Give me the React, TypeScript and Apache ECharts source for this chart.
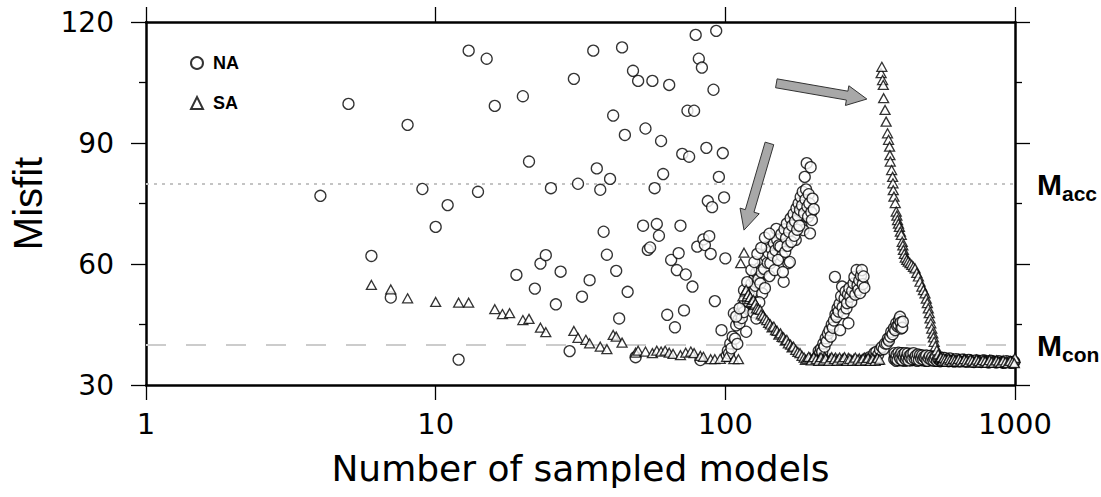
import React, { useEffect, useRef } from "react";
import * as echarts from "echarts";

// ---------- data ----------
const xTickValues = [1, 10, 100, 1000];
const yTickValues = [30, 60, 90, 120];
const seriesNames = ["NA", "SA"];
const accLevel = 80;
const conLevel = 40;
const accLabel = ["M", "acc"];
const conLabel = ["M", "con"];
// arrows: [tailX, tailY, tipX, tipY]
const arrowData = [
  [150, 104.8, 308, 100.9],
  [142, 89.9, 116, 68.4],
];

const naScatter = [
  [4, 76.9], [5, 99.7], [6, 62.0], [7, 51.7], [8, 94.5], [9, 78.6], [10, 69.2], [11, 74.6], [12, 36.3],
  [13, 112.9], [14, 77.9], [15, 110.9], [16, 99.2], [19, 57.3], [20, 101.6], [21, 85.4], [22, 53.9],
  [23, 60.1], [24, 62.2], [25, 78.8], [26, 50.0], [27, 58.1], [29, 38.4], [30, 105.9], [31, 79.9],
  [32, 51.9], [34, 56.0], [35, 112.9], [36, 83.7], [37, 78.4], [38, 68.0], [39, 62.3], [40, 81.1],
  [41, 96.8], [42, 58.3], [43, 46.5], [44, 113.7], [45, 92.0], [46, 53.1], [48, 107.9], [49, 36.9],
  [50, 105.4], [52, 69.5], [53, 93.6], [54, 63.5], [55, 64.1], [56, 105.4], [57, 78.8], [58, 69.9],
  [59, 67.0], [60, 90.5], [61, 82.3], [63, 47.4], [64, 104.4], [65, 61.0], [67, 44.3], [68, 58.5],
  [69, 62.7], [70, 69.5], [71, 87.3], [72, 48.5], [73, 57.4], [74, 98.0], [75, 86.6], [77, 54.4],
  [78, 98.0], [79, 116.8], [80, 64.3], [81, 110.9], [82, 36.2], [83, 108.7], [84, 66.1], [85, 64.7],
  [86, 88.8], [87, 75.6], [88, 66.9], [89, 62.5], [90, 74.1], [91, 103.2], [92, 50.8], [93, 117.8],
  [95, 81.6], [97, 43.6], [98, 87.5], [99, 76.5], [100, 61.4],
];
const naBranch1 = [
  [101, 37.2], [102, 38.5], [103, 37.8], [104, 40.3], [105, 39.1], [106, 42.0], [107, 47.8], [108, 41.5],
  [109, 44.8], [110, 40.2], [111, 46.2], [112, 45.3], [113, 47.8], [114, 46.6], [115, 49.5], [116, 48.1],
  [117, 50.9], [118, 43.2], [119, 52.4], [120, 50.6], [121, 53.8], [122, 51.9], [123, 55.1], [124, 53.0],
  [126, 56.4], [127, 54.6], [128, 57.9], [130, 56.2], [131, 59.0], [132, 55.2], [133, 58.0], [134, 52.7],
  [135, 60.5], [136, 58.8], [138, 61.9], [139, 64.3], [140, 60.3], [141, 62.8], [143, 60.2], [144, 63.9],
  [146, 62.1], [147, 65.2], [149, 63.4], [150, 68.7], [151, 66.0], [153, 64.6], [155, 64.3], [156, 67.4],
  [157, 62.0], [159, 55.6], [160, 68.6], [162, 66.4], [163, 70.0], [165, 60.2], [166, 68.0], [167, 60.5],
  [168, 71.3], [170, 69.5], [172, 72.4], [174, 70.6], [175, 66.0], [176, 73.8], [178, 71.9], [179, 75.0],
  [181, 73.4], [182, 76.6], [183, 69.4], [184, 74.5], [185, 77.9], [186, 68.4], [187, 72.6], [188, 81.6],
  [189, 76.0], [190, 78.5], [191, 85.0], [192, 74.2], [193, 71.7], [194, 77.3], [195, 75.0], [196, 67.6],
  [197, 84.0], [198, 72.8], [199, 70.9], [200, 76.2], [202, 73.6],
];
const naBranch1Extra = [
  [109, 47.0], [112, 49.0], [116, 53.5], [119, 55.5], [123, 58.5], [125, 48.0], [126, 60.5], [128, 46.5],
  [129, 62.5], [131, 50.5], [133, 64.0], [137, 54.0], [137, 66.5], [142, 57.0], [142, 67.5], [148, 58.5],
  [152, 61.0], [158, 58.0], [161, 63.0], [164, 64.5], [169, 65.5], [173, 67.0], [177, 68.5], [180, 69.5],
];
const naBranch2 = [
  [205, 36.4], [208, 37.0], [210, 38.4], [212, 37.9], [214, 39.0], [216, 38.2], [218, 40.3], [220, 39.5],
  [222, 41.6], [224, 40.8], [226, 42.7], [229, 43.6], [231, 42.0], [233, 45.0], [235, 44.2], [237, 46.0],
  [239, 56.8], [240, 47.5], [242, 46.9], [244, 49.0], [246, 48.2], [248, 50.1], [249, 43.6], [251, 52.0],
  [253, 54.4], [254, 49.3], [256, 47.8], [258, 51.5], [260, 53.2], [262, 49.0], [263, 50.3], [265, 52.5],
  [266, 45.3], [268, 54.0], [270, 51.9], [272, 50.6], [274, 53.3], [277, 55.2], [279, 56.8], [281, 52.4],
  [284, 58.5], [286, 54.7], [288, 53.6], [290, 55.9], [292, 52.8], [294, 57.1], [296, 58.5], [298, 55.0],
  [300, 56.9], [302, 54.1], [305, 36.3], [315, 36.9],
];
const naBranch3 = [
  [322, 36.8], [327, 37.9], [332, 38.2], [337, 37.5], [342, 38.7], [347, 39.4], [352, 38.9], [356, 40.3],
  [361, 40.3], [364, 41.5], [367, 41.0], [371, 42.0], [374, 43.2], [378, 42.6], [382, 44.1], [386, 43.6],
  [389, 45.3], [392, 44.6], [396, 44.9], [398, 46.2], [401, 46.9], [403, 45.5], [405, 44.0], [408, 44.2],
  [410, 45.7],
];
const naTail = [
  [383, 36.4], [386, 37.3], [389, 36.0], [392, 36.9], [395, 37.6], [398, 36.3], [401, 37.0], [404, 36.1],
  [407, 37.8], [410, 36.6], [413, 37.2], [416, 36.0], [419, 36.8], [422, 37.5], [425, 36.2], [428, 37.0],
  [431, 36.4], [434, 37.7], [437, 36.1], [440, 36.9], [444, 37.3], [448, 36.2], [452, 36.8], [456, 37.4],
  [460, 36.0], [464, 36.7], [468, 37.1], [472, 36.3], [476, 36.9], [480, 36.1], [484, 37.2], [488, 36.5],
  [492, 36.0], [496, 36.8], [500, 36.3], [505, 37.0], [510, 36.1], [515, 36.6], [520, 36.2], [525, 36.9],
  [530, 36.0], [535, 36.5], [540, 36.2], [546, 36.7], [552, 35.9], [558, 36.4], [566, 36.0], [578, 36.5],
  [590, 35.9], [603, 36.3], [617, 35.8], [632, 36.2], [648, 35.9], [665, 36.3], [683, 35.8], [702, 36.1],
  [722, 35.7], [743, 36.0], [765, 35.7], [788, 36.0], [812, 35.6], [837, 35.9], [863, 35.6], [890, 35.8],
  [918, 35.5], [947, 35.8], [977, 35.5], [995, 35.7],
];
const naTailExtra = [
  [384, 37.9], [387, 36.6], [390, 37.5], [393, 36.2], [396, 38.0], [399, 37.1], [402, 36.5], [405, 37.9],
  [408, 36.2], [411, 37.5], [414, 36.8], [417, 37.9], [420, 36.3], [423, 36.9], [426, 37.8], [429, 36.1],
  [432, 37.2], [435, 36.7], [438, 37.6], [442, 36.4], [446, 37.9], [450, 36.6], [454, 37.2], [458, 36.4],
  [462, 37.6], [466, 36.2], [470, 37.4], [474, 36.6], [478, 37.3], [482, 36.4], [486, 37.0], [490, 36.7],
  [494, 37.3], [498, 36.0], [503, 36.7], [508, 37.2], [513, 36.3], [518, 36.9], [523, 36.1], [528, 36.6],
  [533, 37.1], [538, 36.0], [543, 36.5], [549, 36.2], [555, 36.8], [562, 36.3], [570, 36.7], [584, 36.1],
  [596, 36.6], [610, 36.0], [625, 36.4], [640, 35.9], [656, 36.3], [674, 35.9], [692, 36.2], [712, 35.8],
  [732, 36.1], [754, 35.8], [776, 36.1], [800, 35.7], [824, 36.0], [850, 35.7], [876, 35.9], [904, 35.6],
  [932, 35.9], [962, 35.6], [990, 35.8],
];

const saEarly = [
  [6, 54.8], [7, 53.7], [8, 51.5], [10, 50.6], [12, 50.4], [13, 50.4], [16, 48.8], [17, 47.6], [18, 47.8],
  [20, 46.1], [21, 46.4], [23, 44.2], [24, 43.1], [30, 43.4], [31, 41.7], [33, 41.2], [34, 40.3], [37, 39.5],
  [39, 38.9], [41, 42.4], [42, 42.0], [44, 40.5],
  [49, 38.0], [50, 38.5], [53, 38.3], [56, 37.9], [58, 38.5], [60, 38.3], [62, 38.5], [64, 38.0], [66, 37.7],
  [70, 37.4], [73, 38.0], [76, 38.3], [78, 37.9], [82, 37.2], [84, 37.0], [89, 36.4], [92, 36.4], [96, 36.5],
  [101, 37.0], [107, 36.4], [111, 36.4], [113, 60.2], [116, 62.8],
];
const saBranch = [
  [115, 52.0], [117, 53.2], [118, 53.6], [119, 52.0], [120, 52.5], [121, 51.3], [122, 51.8], [123, 50.6],
  [125, 51.1], [126, 49.8], [127, 50.2], [128, 49.0], [130, 48.9], [132, 48.6], [133, 47.5], [135, 47.2],
  [137, 46.5], [139, 46.1], [141, 45.4], [143, 45.0], [145, 44.3], [147, 44.5], [149, 43.6], [151, 43.4],
  [153, 42.5], [155, 42.8], [157, 41.9], [159, 41.8], [161, 41.0], [163, 41.2], [165, 40.3], [168, 40.0],
  [170, 39.3], [172, 39.5], [175, 38.7], [178, 38.2], [181, 37.9], [184, 37.2], [187, 36.8], [189, 36.2],
  [192, 36.5], [196, 36.8], [200, 36.3], [204, 36.6], [208, 36.2], [212, 36.7], [216, 36.4], [220, 36.9],
  [225, 36.3], [230, 36.6], [235, 36.2], [240, 36.8], [245, 36.4], [250, 36.1], [255, 36.6], [260, 36.3],
  [266, 36.7], [272, 36.2], [278, 36.5], [284, 36.1], [290, 36.6], [296, 36.3], [302, 36.8], [308, 36.4],
  [314, 36.2], [320, 36.7], [326, 36.3], [332, 36.5], [338, 36.2],
];
const saFlatExtra = [
  [194, 37.0], [198, 36.1], [202, 36.9], [206, 36.4], [210, 36.0], [214, 36.9], [218, 36.1], [222, 36.6],
  [228, 36.0], [233, 36.9], [238, 36.4], [243, 36.0], [248, 36.8], [253, 36.3], [258, 36.9], [263, 36.0],
  [269, 36.5], [275, 36.0], [281, 36.8], [287, 36.3], [293, 36.0], [299, 36.6], [305, 36.1], [311, 36.7],
  [317, 36.0], [323, 36.5], [329, 36.0], [335, 36.7], [341, 36.3],
];
const saSpike = [
  [345, 107.3], [347, 108.9], [349, 105.6], [351, 104.4], [352, 101.1], [356, 98.2], [359, 95.3], [363, 92.4],
  [366, 90.8], [369, 89.1], [370, 87.0], [371, 85.4], [375, 83.3], [378, 81.6], [379, 80.0], [380, 78.3],
  [382, 76.7], [386, 75.1], [389, 73.0], [391, 72.0], [393, 70.9], [396, 70.0], [399, 69.2], [402, 68.0],
  [405, 67.2], [408, 65.5], [410, 64.6], [412, 63.5], [415, 62.5], [418, 61.6], [423, 61.0], [428, 60.6],
  [434, 60.2], [440, 59.8], [446, 59.3], [452, 58.9], [458, 57.8], [464, 56.9], [470, 55.6], [477, 54.4],
  [483, 53.5], [489, 52.7], [494, 51.4], [498, 50.3], [502, 49.0], [506, 47.8], [509, 46.5], [512, 45.3],
  [516, 44.0], [520, 42.8], [523, 41.8], [526, 40.7], [531, 39.6], [537, 38.6], [543, 37.6], [550, 36.8],
];
const saTail = [
  [552, 36.6], [558, 36.2], [564, 36.5], [571, 36.0], [578, 36.4], [585, 36.1], [593, 36.5], [601, 36.0],
  [609, 36.3], [617, 35.9], [626, 36.3], [635, 36.0], [644, 36.4], [654, 35.9], [664, 36.2], [674, 35.8],
  [685, 36.2], [696, 35.9], [707, 36.2], [719, 35.8], [731, 36.1], [743, 35.7], [756, 36.1], [769, 35.8],
  [782, 36.1], [796, 35.7], [810, 36.0], [824, 35.7], [839, 36.0], [854, 35.6], [870, 35.9], [886, 35.6],
  [902, 35.9], [919, 35.6], [936, 35.8], [954, 35.5], [972, 35.8], [990, 35.6], [1000, 36.7],
];
const saTailExtra = [
  [555, 36.9], [561, 35.9], [567, 36.7], [574, 36.3], [581, 35.8], [589, 36.6], [597, 36.2], [605, 35.8],
  [613, 36.5], [621, 36.1], [630, 35.8], [639, 36.5], [649, 36.1], [659, 35.7], [669, 36.4], [679, 36.0],
  [690, 35.7], [701, 36.3], [713, 36.0], [725, 35.6], [737, 36.3], [749, 35.9], [762, 35.6], [775, 36.2],
  [789, 35.9], [803, 35.5], [817, 36.2], [831, 35.8], [846, 35.5], [862, 36.1], [878, 35.8], [894, 35.5],
  [910, 36.1], [927, 35.7], [945, 35.4], [963, 36.0], [981, 35.7], [995, 35.4],
];

const naData = [...naScatter, ...naBranch1, ...naBranch1Extra, ...naBranch2, ...naBranch3, ...naTail, ...naTailExtra];
const saData = [...saEarly, ...saBranch, ...saFlatExtra, ...saSpike, ...saTail, ...saTailExtra];

const FONT = "'Liberation Sans', Arial, Helvetica, sans-serif";
const FONT_WIDE = "'DejaVu Sans', 'Liberation Sans', sans-serif";

export default function App() {
  const ref = useRef<HTMLDivElement>(null);

  useEffect(() => {
    if (!ref.current) return;
    const chart = echarts.init(ref.current, undefined, { renderer: "svg" });

    const axisLine = { show: true, onZero: false, lineStyle: { color: "#000", width: 2.5 } };
    const tick = { show: true, length: 15, lineStyle: { color: "#000", width: 1.3 } };

    const xBase = {
      type: "log" as const,
      logBase: 10,
      min: xTickValues[0],
      max: xTickValues[xTickValues.length - 1],
      axisLine,
      axisTick: tick,
      splitLine: { show: false },
      minorTick: { show: false },
    };
    const yBase = {
      type: "value" as const,
      min: yTickValues[0],
      max: yTickValues[yTickValues.length - 1],
      interval: yTickValues[1] - yTickValues[0],
      axisLine,
      axisTick: tick,
      minorTick: { show: true, splitNumber: 2, length: 7, lineStyle: { color: "#000", width: 1.3 } },
      splitLine: { show: false },
      minorSplitLine: { show: false },
    };

    const pointStyle = { color: "#fff", borderColor: "#000", borderWidth: 1.3 };

    chart.setOption({
      animation: false,
      backgroundColor: "#fff",
      grid: { left: 145, right: 86, top: 22, bottom: 112, show: false },
      legend: {
        data: seriesNames,
        orient: "vertical",
        left: 185,
        top: 49,
        itemWidth: 12,
        itemHeight: 12,
        itemGap: 22,
        selectedMode: false,
        textStyle: { fontSize: 18, fontWeight: "bold", color: "#000", fontFamily: FONT, padding: [0, 0, 0, 5] },
      },
      xAxis: [
        {
          ...xBase,
          position: "bottom",
          axisLabel: {
            fontSize: 29,
            color: "#000",
            margin: 24,
            fontFamily: FONT_WIDE,
            formatter: (v: number) => String(Math.round(v)),
          },
          name: "Number of sampled models",
          nameLocation: "middle",
          nameGap: 65,
          nameTextStyle: { fontSize: 36, color: "#000", fontFamily: FONT_WIDE },
        },
        { ...xBase, position: "top", axisLabel: { show: false } },
      ],
      yAxis: [
        {
          ...yBase,
          position: "left",
          axisLabel: { fontSize: 28, color: "#000", margin: 32, fontFamily: FONT_WIDE },
          name: "Misfit",
          nameLocation: "middle",
          nameGap: 98,
          nameRotate: 90,
          nameTextStyle: { fontSize: 40, color: "#000", fontFamily: FONT },
        },
        { ...yBase, position: "right", axisLabel: { show: false } },
      ],
      series: [
        {
          type: "scatter",
          name: "ref-lines",
          data: [],
          z: 1,
          silent: true,
          markLine: {
            silent: true,
            symbol: ["none", "none"],
            label: { show: false },
            z: 1,
            data: [
              { yAxis: accLevel, lineStyle: { type: [3, 5], color: "#c4c4c4", width: 2 } },
              { yAxis: conLevel, lineStyle: { type: [20, 20], color: "#cccccc", width: 2 } },
            ],
          },
        },
        {
          type: "scatter",
          name: seriesNames[0],
          symbol: "circle",
          symbolSize: 11,
          itemStyle: pointStyle,
          data: naData,
          z: 3,
          silent: true,
        },
        {
          type: "scatter",
          name: seriesNames[1],
          symbol: "triangle",
          symbolSize: [10, 9],
          itemStyle: pointStyle,
          data: saData,
          z: 4,
          silent: true,
        },
        {
          type: "custom",
          name: "arrows",
          coordinateSystem: "cartesian2d",
          data: arrowData,
          encode: { x: [0, 2], y: [1, 3] },
          z: 5,
          silent: true,
          renderItem: (_params: any, api: any) => {
            const a = api.coord([api.value(0), api.value(1)]);
            const b = api.coord([api.value(2), api.value(3)]);
            const dx = b[0] - a[0];
            const dy = b[1] - a[1];
            const len = Math.hypot(dx, dy);
            const ux = dx / len;
            const uy = dy / len;
            const nx = -uy;
            const ny = ux;
            const sw = 4.5;
            const hw = 10;
            const hl = 20;
            const bx = b[0] - ux * hl;
            const by = b[1] - uy * hl;
            const pts = [
              [a[0] + nx * sw, a[1] + ny * sw],
              [bx + nx * sw, by + ny * sw],
              [bx + nx * hw, by + ny * hw],
              [b[0], b[1]],
              [bx - nx * hw, by - ny * hw],
              [bx - nx * sw, by - ny * sw],
              [a[0] - nx * sw, a[1] - ny * sw],
            ];
            return {
              type: "polygon",
              shape: { points: pts },
              style: { fill: "#a8a8a8", stroke: "#333", lineWidth: 1 },
            };
          },
        },
      ],
    });

    const yAcc = chart.convertToPixel({ yAxisIndex: 0 }, accLevel) as number;
    const yCon = chart.convertToPixel({ yAxisIndex: 0 }, conLevel) as number;
    const xRight = chart.convertToPixel({ xAxisIndex: 0 }, xTickValues[xTickValues.length - 1]) as number;
    const mX = xRight + 22;
    const subX = mX + 25;
    const mkLabel = (lab: string[], y: number) => [
      {
        type: "text",
        x: mX,
        y: y + 1,
        style: { text: lab[0], fontSize: 30, fontWeight: "bold", fontFamily: FONT, fill: "#000", verticalAlign: "middle" },
      },
      {
        type: "text",
        x: subX,
        y: y + 10,
        style: { text: lab[1], fontSize: 21, fontWeight: "bold", fontFamily: FONT, fill: "#000", verticalAlign: "middle" },
      },
    ];
    chart.setOption({ graphic: [...mkLabel(accLabel, yAcc), ...mkLabel(conLabel, yCon)] });

    return () => chart.dispose();
  }, []);

  return (
    <div
      ref={ref}
      style={{ position: "absolute", left: 0, top: 0, width: 1101, height: 497, background: "#fff" }}
    />
  );
}
